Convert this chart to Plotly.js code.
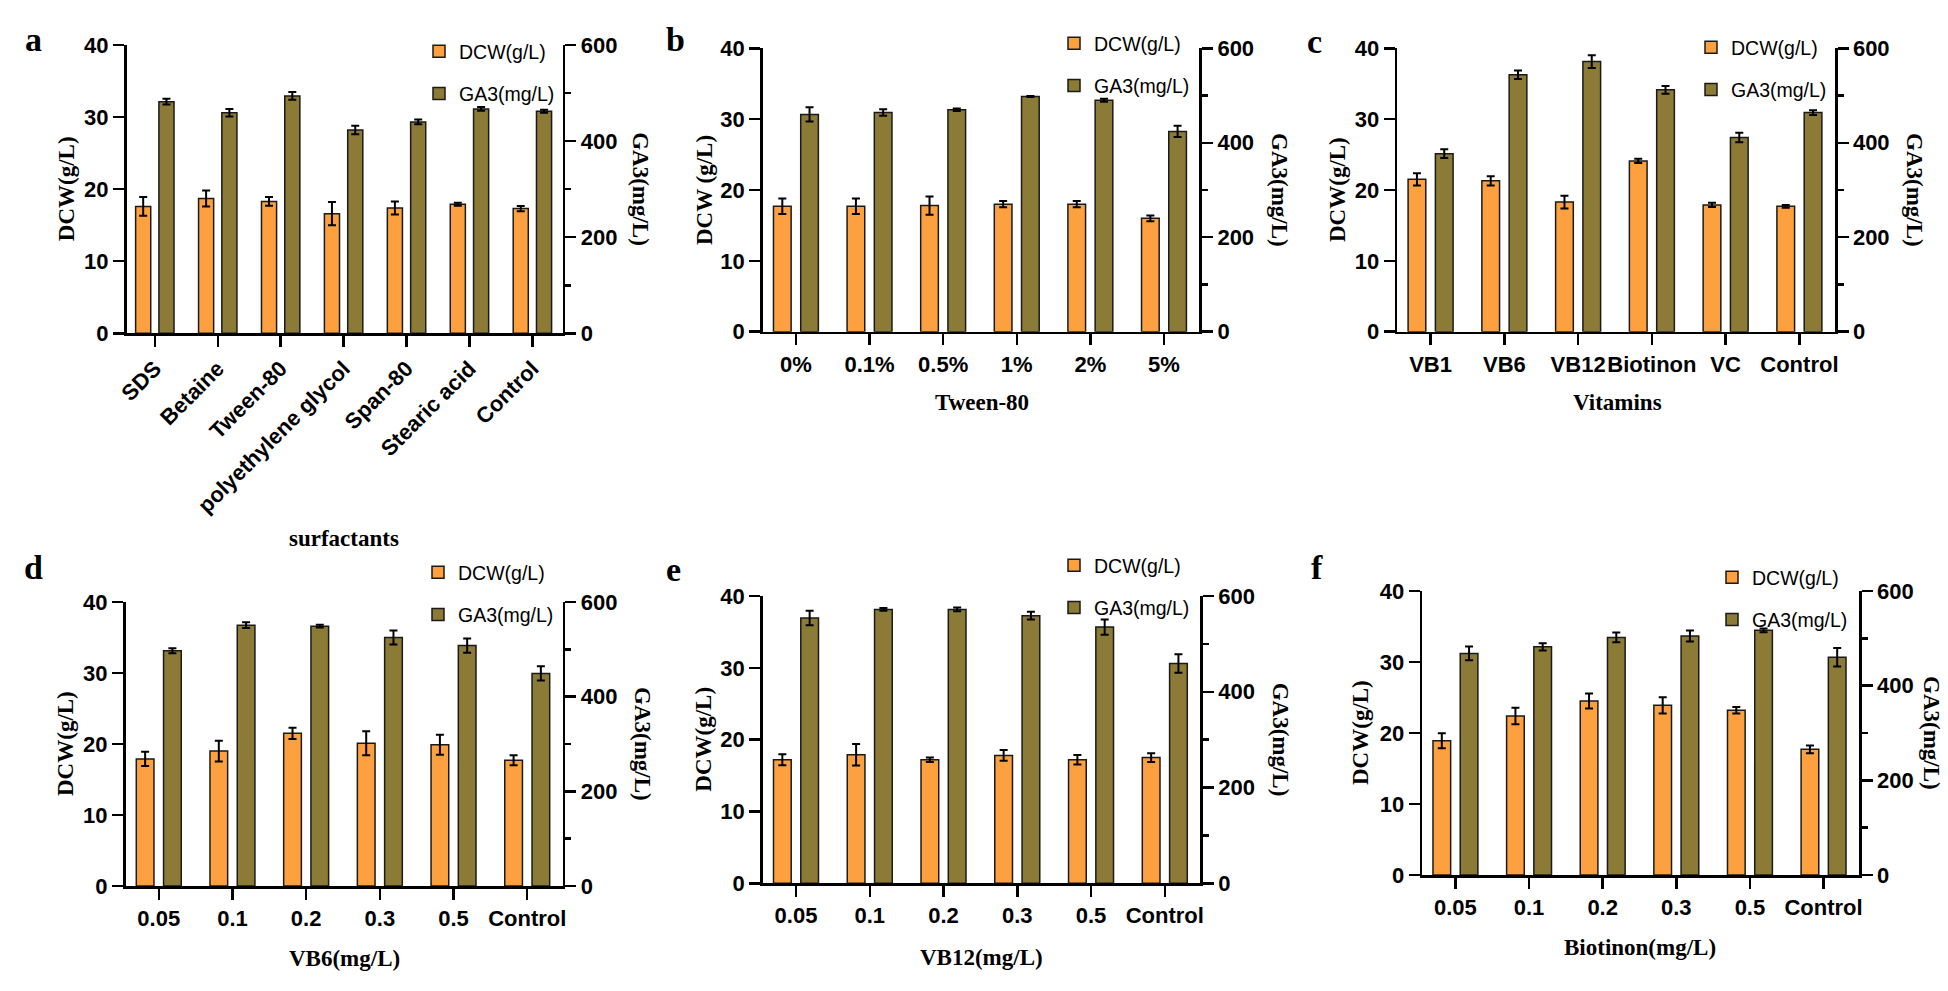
<!DOCTYPE html>
<html>
<head>
<meta charset="utf-8">
<script src="https://cdn.plot.ly/plotly-3.0.1.min.js"></script>
<style>
  body { margin: 0; background: #fff; }
  #chart { width: 1948px; height: 991px; }
</style>
</head>
<body>
<div id="chart"></div>
<script>
// panel a - surfactants
let catsA = ["SDS", "Betaine", "Tween-80", "polyethylene glycol", "Span-80", "Stearic acid", "Control"];
let dcwA = [17.6, 18.7, 18.3, 16.6, 17.4, 17.9, 17.3];
let dcwErrA = [1.3, 1.1, 0.6, 1.6, 0.9, 0.2, 0.35];
let ga3A = [482, 459, 494, 423, 440, 467, 462];
let ga3ErrA = [6, 8, 8, 9, 5, 4, 3];

// panel b - Tween-80
let catsB = ["0%", "0.1%", "0.5%", "1%", "2%", "5%"];
let dcwB = [17.7, 17.7, 17.8, 18.0, 18.0, 16.0];
let dcwErrB = [1.1, 1.1, 1.3, 0.45, 0.45, 0.4];
let ga3B = [460, 464, 470, 498, 490, 424];
let ga3ErrB = [15, 7, 2.5, 1, 3, 12];

// panel c - vitamins
let catsC = ["VB1", "VB6", "VB12", "Biotinon", "VC", "Control"];
let dcwC = [21.5, 21.3, 18.3, 24.1, 17.9, 17.7];
let dcwErrC = [0.85, 0.65, 0.9, 0.3, 0.3, 0.2];
let ga3C = [377, 544, 572, 512, 411, 464];
let ga3ErrC = [9.5, 9, 13.5, 8, 10, 5];

// panels d-f share the dose labels
let catsDose = ["0.05", "0.1", "0.2", "0.3", "0.5", "Control"];

let dcwD = [17.9, 19.0, 21.5, 20.1, 19.9, 17.7];
let dcwErrD = [1.0, 1.45, 0.8, 1.7, 1.4, 0.7];
let ga3D = [497, 551, 549, 525, 508, 449];
let ga3ErrD = [5.5, 6, 3, 15, 15, 15];

let dcwE = [17.2, 17.9, 17.2, 17.8, 17.2, 17.5];
let dcwErrE = [0.75, 1.5, 0.3, 0.75, 0.65, 0.6];
let ga3E = [554, 572, 572, 559, 535, 459];
let ga3ErrE = [15, 3, 4, 8, 16, 19.5];

let dcwF = [18.9, 22.4, 24.5, 23.9, 23.2, 17.7];
let dcwErrF = [1.05, 1.15, 1.05, 1.15, 0.45, 0.55];
let ga3F = [468, 482, 502, 505, 517, 460];
let ga3ErrF = [14.5, 7.5, 10.5, 11.5, 4, 19.5];

const W = 1948, H = 991;
function px(x) { return x / W; }
function py(y) { return 1 - y / H; }

// plot boxes in pixels: [left, right, top, bottom]
let panels = [
  {cats: catsA, dcw: dcwA, dcwErr: dcwErrA, ga3: ga3A, ga3Err: ga3ErrA, box: [126.5, 562.6, 45, 333.3],
   letter: "a", letterPos: [33, 40], xTitle: "surfactants", xTitlePos: [344, 538], yTitle: "DCW(g/L)",
   leftTitleX: 66, rightTitleX: 641, legendPos: [419, 32], angle: -45},
  {cats: catsB, dcw: dcwB, dcwErr: dcwErrB, ga3: ga3B, ga3Err: ga3ErrB, box: [762.8, 1199.3, 48.3, 331.7],
   letter: "b", letterPos: [675, 40], xTitle: "Tween-80", xTitlePos: [982, 403], yTitle: "DCW (g/L)",
   leftTitleX: 704, rightTitleX: 1280, legendPos: [1054, 24], angle: 0},
  {cats: catsC, dcw: dcwC, dcwErr: dcwErrC, ga3: ga3C, ga3Err: ga3ErrC, box: [1397.4, 1834.8, 48.3, 331.7],
   letter: "c", letterPos: [1314, 41], xTitle: "Vitamins", xTitlePos: [1617, 403], yTitle: "DCW(g/L)",
   leftTitleX: 1337, rightTitleX: 1915, legendPos: [1691, 28], angle: 0},
  {cats: catsDose, dcw: dcwD, dcwErr: dcwErrD, ga3: ga3D, ga3Err: ga3ErrD, box: [125.6, 562.6, 602, 886],
   letter: "d", letterPos: [33, 567], xTitle: "VB6(mg/L)", xTitlePos: [344, 958], yTitle: "DCW(g/L)",
   leftTitleX: 65, rightTitleX: 643, legendPos: [418, 553], angle: 0},
  {cats: catsDose, dcw: dcwE, dcwErr: dcwErrE, ga3: ga3E, ga3Err: ga3ErrE, box: [762.8, 1200.2, 596, 883.3],
   letter: "e", letterPos: [673, 569], xTitle: "VB12(mg/L)", xTitlePos: [982, 957], yTitle: "DCW(g/L)",
   leftTitleX: 704, rightTitleX: 1280, legendPos: [1054, 546], angle: 0},
  {cats: catsDose, dcw: dcwF, dcwErr: dcwErrF, ga3: ga3F, ga3Err: ga3ErrF, box: [1422.3, 1858.9, 591, 875],
   letter: "f", letterPos: [1317, 567], xTitle: "Biotinon(mg/L)", xTitlePos: [1640, 947], yTitle: "DCW(g/L)",
   leftTitleX: 1360, rightTitleX: 1932, legendPos: [1712, 558], angle: 0}
];

let orange = "#FDA03F";
let olive = "#8B7B37";
let edge = "#1a1a1a";
let tickFont = {family: "Liberation Sans, Arial, sans-serif", size: 22, weight: "bold", color: "#000"};
let serifBold = {family: "Liberation Serif, Times New Roman, serif", size: 23, weight: "bold", color: "#000"};

let data = [];
let layout = {
  width: W, height: H,
  margin: {l: 0, r: 0, t: 0, b: 0},
  paper_bgcolor: "#fff", plot_bgcolor: "rgba(0,0,0,0)",
  barmode: "overlay",
  showlegend: true,
  annotations: []
};

function note(text, x, y, angle, font) {
  return {text: text, x: px(x), y: py(y), xref: "paper", yref: "paper",
          xanchor: "center", yanchor: "middle", showarrow: false, textangle: angle, font: font};
}

panels.forEach(function (p, i) {
  let n = i + 1;
  let xName = n === 1 ? "x" : "x" + n;
  let yL = 2 * n - 1, yR = 2 * n;
  let yLName = yL === 1 ? "y" : "y" + yL;
  let yRName = "y" + yR;
  let legName = n === 1 ? "legend" : "legend" + n;

  data.push({
    type: "bar", name: "DCW(g/L)", x: p.cats, y: p.dcw,
    xaxis: xName, yaxis: yLName, legend: legName, legendgroup: "dcw" + n,
    width: 0.24, offset: -0.305,
    marker: {color: orange, line: {color: edge, width: 1.5}},
    error_y: {type: "data", array: p.dcwErr, visible: true, color: "#000", thickness: 2, width: 4}
  });
  data.push({
    type: "bar", name: "GA3(mg/L)", x: p.cats, y: p.ga3,
    xaxis: xName, yaxis: yRName, legend: legName, legendgroup: "ga3" + n,
    width: 0.24, offset: 0.065,
    marker: {color: olive, line: {color: edge, width: 1.5}},
    error_y: {type: "data", array: p.ga3Err, visible: true, color: "#000", thickness: 2, width: 4}
  });

  let b = p.box;
  let xKey = n === 1 ? "xaxis" : "xaxis" + n;
  let yLKey = yL === 1 ? "yaxis" : "yaxis" + yL;
  let yRKey = "yaxis" + yR;
  let nc = p.cats.length;

  layout[xKey] = {
    domain: [px(b[0]), px(b[1])], anchor: yLName,
    type: "category", categoryarray: p.cats,
    range: [-0.45, nc - 0.52],
    showline: true, linewidth: 2.7, linecolor: "#000",
    ticks: "outside", ticklen: 11, tickwidth: 2.5, tickcolor: "#000",
    tickangle: p.angle, tickfont: tickFont,
    showgrid: false, zeroline: false, fixedrange: true
  };
  layout[yLKey] = {
    domain: [py(b[3]), py(b[2])], anchor: xName,
    range: [0, 40], tickvals: [0, 10, 20, 30, 40],
    showline: true, linewidth: 2.7, linecolor: "#000",
    ticks: "outside", ticklen: 11, tickwidth: 2.5, tickcolor: "#000",
    tickfont: tickFont, showgrid: false, zeroline: false, fixedrange: true
  };
  layout[yRKey] = {
    overlaying: yLName, side: "right", anchor: xName,
    range: [0, 600], tickvals: [0, 200, 400, 600],
    showline: true, linewidth: 2.7, linecolor: "#000",
    ticks: "outside", ticklen: 11, tickwidth: 2.5, tickcolor: "#000",
    minor: {tickvals: [100, 300, 500], ticks: "outside", ticklen: 6, tickwidth: 2.5, tickcolor: "#000"},
    tickfont: tickFont, showgrid: false, zeroline: false, fixedrange: true
  };

  layout[legName] = {
    x: px(p.legendPos[0]), y: py(p.legendPos[1]),
    xanchor: "left", yanchor: "top",
    bgcolor: "rgba(0,0,0,0)", borderwidth: 0,
    traceorder: "grouped", tracegroupgap: 14,
    font: {family: "Liberation Sans, Arial, sans-serif", size: 19.5, color: "#000"}
  };

  let midY = (b[2] + b[3]) / 2;
  layout.annotations.push(
    note(p.letter, p.letterPos[0], p.letterPos[1], 0,
         {family: serifBold.family, size: 34, weight: "bold", color: "#000"}),
    note(p.xTitle, p.xTitlePos[0], p.xTitlePos[1], 0, serifBold),
    note(p.yTitle, p.leftTitleX, midY, -90, serifBold),
    note("GA3(mg/L)", p.rightTitleX, midY, 90, serifBold)
  );
});

Plotly.newPlot("chart", data, layout, {staticPlot: true});
</script>
</body>
</html>
